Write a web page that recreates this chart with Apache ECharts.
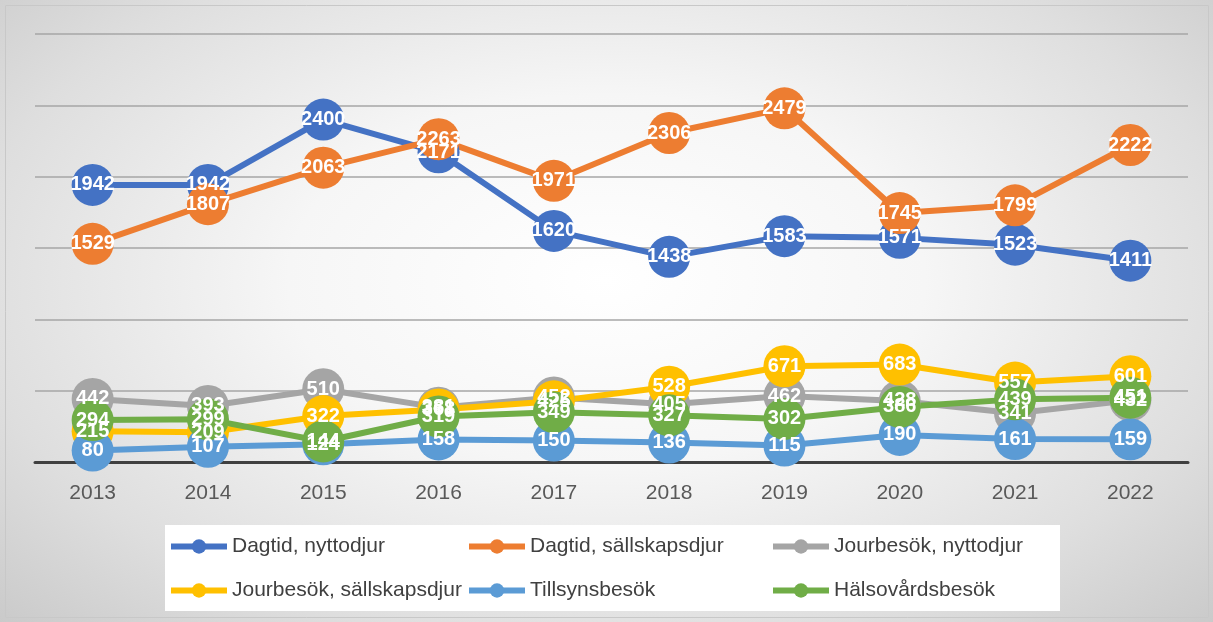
<!DOCTYPE html>
<html>
<head>
<meta charset="utf-8">
<script src="https://cdn.jsdelivr.net/npm/echarts@6/dist/echarts.min.js"></script>
<style>
  html, body { margin: 0; padding: 0; }
  #chart {
    width: 1213px; height: 622px;
    background: radial-gradient(ellipse 75% 85% at 50% 45%, #ffffff 0%, #f6f6f6 35%, #dedede 70%, #c4c4c4 100%);
  }
</style>
</head>
<body>
<div id="chart"></div>
<script>
// år
var years = ['2013', '2014', '2015', '2016', '2017', '2018', '2019', '2020', '2021', '2022'];

// serier
var dagtidNytto = [1942, 1942, 2400, 2171, 1620, 1438, 1583, 1571, 1523, 1411];
var dagtidSallskap = [1529, 1807, 2063, 2263, 1971, 2306, 2479, 1745, 1799, 2222];
var jourNytto = [442, 393, 510, 381, 452, 405, 462, 428, 341, 432];
var jourSallskap = [215, 209, 322, 368, 425, 528, 671, 683, 557, 601];
var tillsyn = [80, 107, 124, 158, 150, 136, 115, 190, 161, 159];
var halsovard = [294, 299, 144, 319, 349, 327, 302, 386, 439, 451];

var names = ['Dagtid, nyttodjur', 'Dagtid, sällskapsdjur', 'Jourbesök, nyttodjur',
  'Jourbesök, sällskapsdjur', 'Tillsynsbesök', 'Hälsovårdsbesök'];
var colors = ['#4472C4', '#ED7D31', '#A5A5A5', '#FFC000', '#5B9BD5', '#70AD47'];
var allData = [dagtidNytto, dagtidSallskap, jourNytto, jourSallskap, tillsyn, halsovard];

var chart = echarts.init(document.getElementById('chart'));

function makeSeries(i) {
  return {
    name: names[i],
    type: 'line',
    data: allData[i],
    symbol: 'circle',
    symbolSize: 42,
    lineStyle: { width: 6, color: colors[i] },
    itemStyle: { color: colors[i] },
    label: {
      show: true,
      position: 'inside',
      color: '#fff',
      fontWeight: 'bold',
      fontSize: 20,
      fontFamily: 'Liberation Sans'
    },
    emphasis: { disabled: true }
  };
}

// legender, en per post för att få kolumnerna
var legendPos = [[168, 536], [466, 536], [770, 536], [168, 580], [466, 580], [770, 580]];
var legends = legendPos.map(function (p, i) {
  return {
    data: [names[i]],
    left: p[0],
    top: p[1],
    padding: 0,
    itemWidth: 56,
    itemHeight: 18,
    itemGap: 4,
    lineStyle: { width: 6 },
    textStyle: { color: '#404040', fontSize: 21, fontFamily: 'Liberation Sans' }
  };
});

var option = {
  backgroundColor: 'transparent',
  animation: false,
  color: colors,
  graphic: [
    {
      type: 'rect',
      shape: { x: 165, y: 525, width: 895, height: 86 },
      style: { fill: '#ffffff' },
      z: -1
    },
    {
      type: 'rect',
      shape: { x: 5.5, y: 5.5, width: 1203, height: 612 },
      style: { fill: 'none', stroke: '#c8c8c8', lineWidth: 1 },
      z: -1
    }
  ],
  legend: legends,
  grid: { left: 35, right: 25, top: 34, bottom: 160 },
  xAxis: {
    type: 'category',
    data: years,
    axisLine: { lineStyle: { color: '#404040', width: 3 } },
    axisTick: { show: false },
    axisLabel: { color: '#595959', fontSize: 21, margin: 21, fontFamily: 'Liberation Sans' }
  },
  yAxis: {
    type: 'value',
    min: 0,
    max: 3000,
    interval: 500,
    axisLabel: { show: false },
    axisLine: { show: false },
    axisTick: { show: false },
    splitLine: { lineStyle: { color: '#a6a6a6', width: 1.5 } }
  },
  series: [0, 1, 2, 3, 4, 5].map(makeSeries)
};

chart.setOption(option);
</script>
</body>
</html>
